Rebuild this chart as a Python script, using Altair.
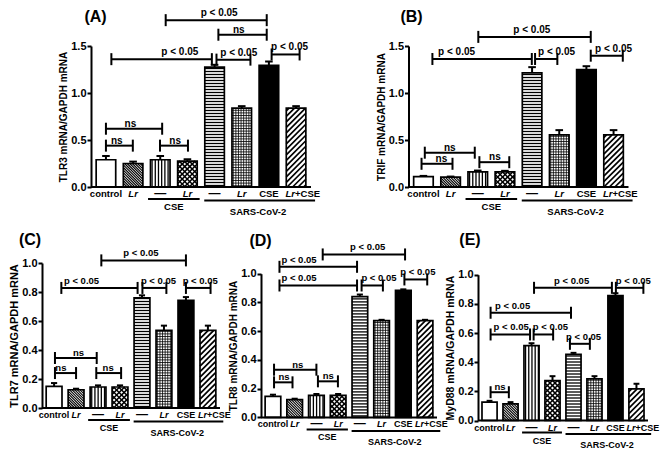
import altair as alt
import pandas as pd

# ---------------- data ----------------
bar_labels = ["control", "Lr", "—", "Lr", "—", "Lr", "CSE", "Lr"]
lr_italic = [False, True, False, True, False, True, False, True]
group_names = ["CSE", "SARS-CoV-2"]

tlr3_mean = [0.29, 0.25, 0.29, 0.275, 1.275, 0.84, 1.295, 0.84]
tlr3_err = [0.04, 0.02, 0.04, 0.02, 0.025, 0.02, 0.04, 0.02]
trif_mean = [0.11, 0.105, 0.16, 0.16, 1.215, 0.555, 1.25, 0.555]
trif_err = [0.008, 0.006, 0.015, 0.012, 0.06, 0.05, 0.035, 0.05]
tlr7_mean = [0.149, 0.126, 0.145, 0.145, 0.759, 0.535, 0.742, 0.535]
tlr7_err = [0.023, 0.007, 0.011, 0.011, 0.018, 0.033, 0.023, 0.033]
tlr8_mean = [0.146, 0.123, 0.153, 0.153, 0.84, 0.673, 0.884, 0.673]
tlr8_err = [0.012, 0.007, 0.01, 0.01, 0.015, 0.006, 0.007, 0.006]
myd88_mean = [0.126, 0.114, 0.514, 0.274, 0.453, 0.286, 0.857, 0.217]
myd88_err = [0.009, 0.012, 0.016, 0.03, 0.011, 0.018, 0.016, 0.035]

# significance brackets: (from, to, height, text, label position)
brackets_a = [(0.0, 0.99, 0.44, "ns", 0.4), (1.99, 3.02, 0.44, "ns", 2.55),
              (0.0, 2.07, 0.62, "ns", 0.9), (0.2, 3.9, 1.36, "p < 0.05", 2.72),
              (4.07, 5.32, 1.355, "p < 0.05", 4.89), (6.1, 7.13, 1.41, "p < 0.05", 6.76),
              (4.14, 5.92, 1.62, "ns", 4.89), (2.2, 5.92, 1.775, "p < 0.05", 4.17)]
brackets_b = [(-0.07, 1.07, 0.247, "ns", 0.66), (2.06, 3.16, 0.264, "ns", 2.63),
              (0.05, 1.89, 0.365, "ns", 0.97), (0.33, 3.99, 1.362, "p < 0.05", 1.22),
              (4.11, 4.93, 1.362, "p < 0.05", 4.9), (6.16, 7.34, 1.397, "p < 0.05", 7.0),
              (2.02, 6.16, 1.597, "p < 0.05", 3.99)]
brackets_c = [(0.04, 1.0, 0.241, "ns", 0.31), (1.92, 3.05, 0.241, "ns", 2.46),
              (0.04, 1.94, 0.345, "ns", 1.11), (0.33, 3.8, 0.828, "p < 0.05", 1.25),
              (4.02, 5.11, 0.828, "p < 0.05", 4.75), (6.0, 7.12, 0.828, "p < 0.05", 6.65),
              (2.15, 6.0, 1.018, "p < 0.05", 3.95)]
brackets_d = [(0.05, 0.9, 0.244, "ns", 0.51), (2.07, 2.99, 0.251, "ns", 2.55),
              (0.05, 2.0, 0.332, "ns", 1.14), (0.3, 3.87, 0.918, "p < 0.05", 1.2),
              (4.08, 5.06, 0.918, "p < 0.05", 4.88), (6.05, 7.1, 0.96, "p < 0.05", 6.67),
              (0.3, 3.87, 1.048, "p < 0.05", 1.2), (2.29, 6.08, 1.134, "p < 0.05", 4.36)]
brackets_e = [(0.05, 0.92, 0.194, "ns", 0.5), (0.05, 1.93, 0.59, "p < 0.05", 1.03),
              (2.1, 3.03, 0.59, "p < 0.05", 2.9), (3.83, 4.78, 0.526, "p < 0.05", 4.48),
              (0.05, 3.88, 0.739, "p < 0.05", 1.1), (2.12, 5.83, 0.91, "p < 0.05", 3.91),
              (6.02, 7.33, 0.91, "p < 0.05", 6.85)]

# ---------------- styling ----------------
FONT = '"Liberation Sans Narrow", "Liberation Sans", Arial, sans-serif'
TFONT = '"Liberation Sans", Arial, sans-serif'
XMIN, XMAX = -0.55, 7.55
BW = 0.36          # half bar width (x units)
CAP = 0.14         # half cap width
PATTERN = ["none", "back", "vert", "cross", "horiz", "grid", "solid", "fwd"]


def pattern_rows(kind, i, v, sx, sy):
    w = 2 * BW * sx
    h = v * sy
    x0 = i - BW
    rows = []

    def add(a, b, c, d, sw):
        rows.append({"x": x0 + a / sx, "x2": x0 + c / sx, "y": b / sy, "y2": d / sy, "w": sw})

    def horiz(p, sw):
        k = p / 2
        while k < h:
            add(0, k, w, k, sw)
            k += p

    def vert(p, sw):
        k = p / 2
        while k < w:
            add(k, 0, k, h, sw)
            k += p

    def fwd(p, sw):
        c = -h + p / 2
        while c < w:
            a = max(0.0, c)
            b = min(w, c + h)
            if b > a:
                add(a, a - c, b, b - c, sw)
            c += p

    def back(p, sw):
        c = p / 2
        while c < w + h:
            a = max(0.0, c - h)
            b = min(w, c)
            if b > a:
                add(a, c - a, b, c - b, sw)
            c += p

    if kind == "horiz":
        horiz(3.0, 1.3)
    elif kind == "vert":
        vert(3.2, 1.3)
    elif kind == "grid":
        horiz(2.6, 0.8)
        vert(2.6, 0.8)
    elif kind == "back":
        back(2.6, 1.1)
    elif kind == "fwd":
        fwd(5.5, 1.7)
    elif kind == "cross":
        fwd(5.0, 1.5)
        back(5.0, 1.5)
    return rows


def panel(letter, ytitle, means, errs, brackets, ymax, yticks, width, height,
          yrange, title_xy, title_size, fs, lfs, last_dx):
    y0, ytop = yrange
    sx = width / (XMAX - XMIN)
    sy = (y0 - ytop) / ymax
    xs = alt.Scale(domain=[XMIN, XMAX], nice=False, zero=False)
    ys = alt.Scale(domain=[0, ymax], range=[y0, ytop], nice=False, zero=False)
    yaxis = alt.Axis(values=yticks, format=".1f", title=ytitle, titleFontSize=title_size)

    bars = pd.DataFrame({
        "pos": list(range(8)),
        "mean": means,
        "top": [m + e for m, e in zip(means, errs)],
        "base": [0.0] * 8,
        "xl": [i - BW for i in range(8)],
        "xr": [i + BW for i in range(8)],
        "cl": [i - CAP for i in range(8)],
        "cr": [i + CAP for i in range(8)],
        "fill": ["black" if PATTERN[i] == "solid" else "white" for i in range(8)],
        "label": bar_labels,
        "italic": lr_italic,
    })
    bars["dash"] = bars["label"] == "—"
    prow = []
    for i in range(8):
        prow += pattern_rows(PATTERN[i], i, means[i], sx, sy)
    pat = pd.DataFrame(prow)

    X = lambda f: alt.X(f, type="quantitative", scale=xs, axis=None)
    Y = lambda f: alt.Y(f, type="quantitative", scale=ys, axis=yaxis)

    base = alt.Chart(bars)
    fills = base.mark_rect(strokeWidth=0).encode(
        x=X("xl"), x2="xr", y=Y("base"), y2="mean", fill=alt.Fill("fill:N", scale=None))
    pats = alt.Chart(pat).mark_rule(color="black").encode(
        x=X("x"), x2="x2", y=Y("y"), y2="y2",
        strokeWidth=alt.StrokeWidth("w:Q", scale=None))
    outline = base.mark_rect(fillOpacity=0, stroke="black", strokeWidth=1.7).encode(
        x=X("xl"), x2="xr", y=Y("base"), y2="mean")
    err_line = base.mark_rule(color="black", strokeWidth=2).encode(
        x=X("pos"), y=Y("mean"), y2="top")
    err_cap = base.mark_rule(color="black", strokeWidth=2).encode(
        x=X("cl"), x2="cr", y=Y("top"))
    axis_line = alt.Chart(pd.DataFrame({"a": [XMIN], "b": [XMAX], "y": [0.0]})).mark_rule(
        color="black", strokeWidth=2).encode(x=X("a"), x2="b", y=Y("y"))

    br = pd.DataFrame(brackets, columns=["x1", "x2", "y", "text", "lx"])
    ends = pd.DataFrame([{"ex": b[0], "y": b[2]} for b in brackets] +
                        [{"ex": b[1], "y": b[2]} for b in brackets])
    br_line = alt.Chart(br).mark_rule(color="black", strokeWidth=2).encode(
        x=X("x1"), x2="x2", y=Y("y"))
    br_ends = alt.Chart(ends).mark_rule(color="black", strokeWidth=2, yOffset=-6, y2Offset=6).encode(
        x=X("ex"), y=Y("y"), y2="y")
    txt = dict(font=FONT, fontWeight="bold", fontSize=fs, color="black", baseline="alphabetic")
    br_ns = alt.Chart(br[br.text == "ns"]).mark_text(dy=-2, **txt).encode(
        x=X("lx"), y=Y("y"), text="text:N")
    br_p = alt.Chart(br[br.text != "ns"]).mark_text(dy=-4, **txt).encode(
        x=X("lx"), y=Y("y"), text="text:N")

    lab = dict(font=FONT, fontWeight="bold", fontSize=lfs, color="black", baseline="middle")
    xl_reg = alt.Chart(bars[~bars.italic & ~bars.dash]).mark_text(**lab).encode(
        x=X("pos"), y=alt.value(y0 + 7), text="label:N")
    dlab = dict(lab)
    dlab["fontSize"] = 12
    xl_dash = alt.Chart(bars[bars.dash]).mark_text(**dlab).encode(
        x=X("pos"), y=alt.value(y0 + 6), text="label:N")
    xl_it = alt.Chart(bars[bars.italic & (bars.pos < 7)]).mark_text(fontStyle="italic", **lab).encode(
        x=X("pos"), y=alt.value(y0 + 7), text="label:N")
    xl_last_a = alt.Chart(bars[bars.pos == 7]).mark_text(fontStyle="italic", align="right", dx=last_dx, **lab).encode(
        x=X("pos"), y=alt.value(y0 + 7), text="label:N")
    xl_last_b = alt.Chart(pd.DataFrame({"pos": [7], "t": ["+CSE"]})).mark_text(align="left", dx=last_dx, **lab).encode(
        x=X("pos"), y=alt.value(y0 + 7), text="t:N")

    g1 = pd.DataFrame({"a": [1.55], "b": [3.45], "c": [2.5], "t": [group_names[0]]})
    g2 = pd.DataFrame({"a": [3.62], "b": [7.7], "c": [5.6], "t": [group_names[1]]})
    g1_line = alt.Chart(g1).mark_rule(color="black", strokeWidth=2).encode(
        x=X("a"), x2="b", y=alt.value(y0 + 12))
    g2_line = alt.Chart(g2).mark_rule(color="black", strokeWidth=2).encode(
        x=X("a"), x2="b", y=alt.value(y0 + 13.5))
    g1_txt = alt.Chart(g1).mark_text(**lab).encode(x=X("c"), y=alt.value(y0 + 20), text="t:N")
    g2_txt = alt.Chart(g2).mark_text(**lab).encode(x=X("c"), y=alt.value(y0 + 24.5), text="t:N")

    title = alt.Chart(pd.DataFrame({"t": ["(" + letter + ")"]})).mark_text(
        font=TFONT, fontWeight="bold", fontSize=16, color="black", baseline="middle").encode(
        x=alt.value(title_xy[0]), y=alt.value(title_xy[1]), text="t:N")

    return alt.layer(fills, pats, outline, err_line, err_cap, axis_line,
                     br_line, br_ends, br_ns, br_p,
                     xl_reg, xl_dash, xl_it, xl_last_a, xl_last_b,
                     g1_line, g2_line, g1_txt, g2_txt, title).properties(width=width, height=height)


ticks_top = [0.0, 0.5, 1.0, 1.5]
ticks_bot = [0.0, 0.2, 0.4, 0.6, 0.8, 1.0]

pa = panel("A", "TLR3 mRNA/GAPDH mRNA", tlr3_mean, tlr3_err, brackets_a, 1.5, ticks_top,
           220, 141, (141, 0), (4.5, -29.5), 10, 10, 9.5, -1)
pb = panel("B", "TRIF mRNA/GAPDH mRNA", trif_mean, trif_err, brackets_b, 1.5, ticks_top,
           220, 141, (141, 0), (3, -29.5), 10, 10, 9.5, -1)
pc = panel("C", "TLR7 mRNA/GAPDH mRNA", tlr7_mean, tlr7_err, brackets_c, 1.0, ticks_bot,
           178, 158, (145, 0), (-12, -23.3), 11, 9.5, 9, -1)
pd_ = panel("D", "TLR8 mRNA/GAPDH mRNA", tlr8_mean, tlr8_err, brackets_d, 1.0, ticks_bot,
            176, 158, (154.4, 10.7), (-0.5, -21.6), 10, 9.5, 9, -1)
pe = panel("E", "MyD88 mRNA/GAPDH mRNA", myd88_mean, myd88_err, brackets_e, 1.0, ticks_bot,
           170, 158, (157.5, 11.7), (-8, -23.3), 10.5, 9.5, 9, -1)

spacer = alt.Chart(pd.DataFrame({"v": [0]})).mark_point(opacity=0, size=1).encode(
    x=alt.value(0), y=alt.value(0)).properties(width=49, height=10)

top_row = alt.hconcat(spacer, alt.hconcat(pa, pb, spacing=97.5, bounds="flush"),
                      spacing=0, bounds="flush")
bottom_row = alt.hconcat(pc, pd_, pe, spacing=41, bounds="flush")

chart = alt.vconcat(top_row, bottom_row, spacing=15, bounds="full").properties(
    padding=0, background="white"
).configure_view(strokeWidth=0).configure_axis(
    grid=False, domainWidth=2, domainColor="black", tickWidth=2, tickColor="black",
    tickSize=4, labelPadding=1, titlePadding=2,
    labelFont=TFONT, labelFontWeight="bold", labelFontSize=11, labelColor="black",
    titleFont=TFONT, titleFontWeight="bold", titleColor="black"
)

chart.save("out.html", embed_options={"renderer": "svg", "actions": False})
